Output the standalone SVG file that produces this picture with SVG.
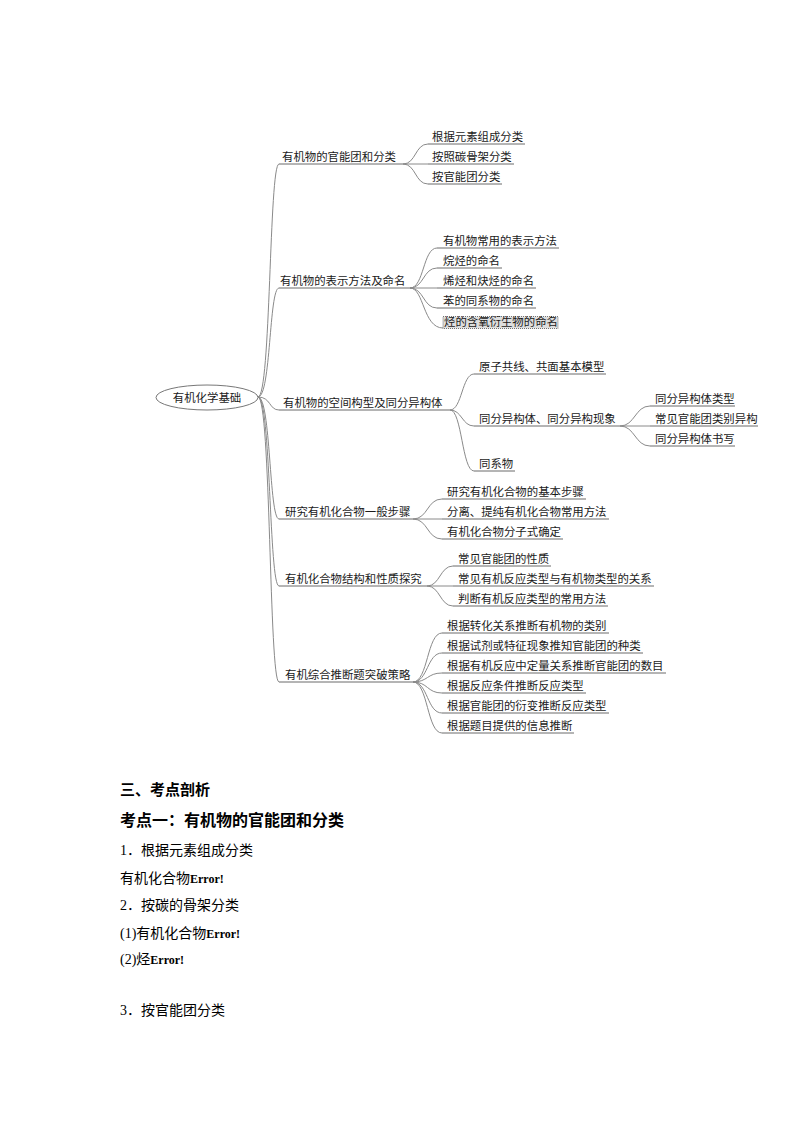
<svg xmlns="http://www.w3.org/2000/svg" width="794" height="1123" viewBox="0 0 794 1123">
<style>
.t{font-family:"Noto Sans CJK SC","Noto Sans",sans-serif;font-size:11.4px;fill:#1a1a1a}
.u{stroke:#6a6a6a;stroke-width:1;fill:none}
.c{stroke:#8a8a8a;stroke-width:1;fill:none}
.h{font-family:"Noto Sans CJK SC",sans-serif;font-weight:bold;fill:#000}
.b{font-family:"Liberation Serif","Noto Sans CJK SC",serif;font-size:14px;fill:#000}
.e{font-family:"Liberation Serif",serif;font-weight:bold;font-size:12px}
</style>
<rect width="794" height="1123" fill="#fff"/>
<g id="connectors">
<!-- root to level 1 -->
<path class="c" d="M258,397 C271,397 269,164 279,164"/>
<path class="c" d="M258,397 C271,397 269,288 279,288"/>
<path class="c" d="M258,397 C271,397 269,410 279,410"/>
<path class="c" d="M258,397 C271,397 269,519 279,519"/>
<path class="c" d="M258,397 C271,397 269,586 279,586"/>
<path class="c" d="M258,397 C271,397 269,682 279,682"/>
<!-- branch 1 -->
<path class="c" d="M403,164 C416,164 415,144 428,144"/>
<path class="c" d="M403,164 L428,164"/>
<path class="c" d="M403,164 C416,164 415,184 428,184"/>
<!-- branch 2 -->
<path class="c" d="M410,288 C424,288 423,248 437,248"/>
<path class="c" d="M410,288 C424,288 423,268 437,268"/>
<path class="c" d="M410,288 L437,288"/>
<path class="c" d="M410,288 C424,288 423,308 437,308"/>
<path class="c" d="M410,288 C424,288 423,328 443,328"/>
<!-- branch 3 -->
<path class="c" d="M450,410 C462,410 462,374 474,374"/>
<path class="c" d="M450,410 C462,410 462,426 474,426"/>
<path class="c" d="M450,410 C462,410 462,471 474,471"/>
<path class="c" d="M620,426 C635,426 635,406 650,406"/>
<path class="c" d="M620,426 L650,426"/>
<path class="c" d="M620,426 C635,426 635,446 650,446"/>
<!-- branch 4 -->
<path class="c" d="M413,519 C428,519 427,499 442,499"/>
<path class="c" d="M413,519 L442,519"/>
<path class="c" d="M413,519 C428,519 427,539 442,539"/>
<!-- branch 5 -->
<path class="c" d="M427,586 C440,586 440,566 453,566"/>
<path class="c" d="M427,586 L453,586"/>
<path class="c" d="M427,586 C440,586 440,606 453,606"/>
<!-- branch 6 -->
<path class="c" d="M413,682 C428,682 427,633 442,633"/>
<path class="c" d="M413,682 C428,682 427,653 442,653"/>
<path class="c" d="M413,682 C428,682 427,673 442,673"/>
<path class="c" d="M413,682 C428,682 427,693 442,693"/>
<path class="c" d="M413,682 C428,682 427,713 442,713"/>
<path class="c" d="M413,682 C428,682 427,733 442,733"/>
</g>
<g id="root">
<ellipse cx="207" cy="397.5" rx="51" ry="12.5" fill="#fff" stroke="#777" stroke-width="1"/>
<text class="t" x="207" y="401.5" text-anchor="middle">有机化学基础</text>
</g>
<g id="n1"><line class="u" x1="279" y1="164" x2="403" y2="164"/><text class="t" x="282" y="161">有机物的官能团和分类</text></g>
<g id="n1a"><line class="u" x1="428" y1="144" x2="525" y2="144"/><text class="t" x="432" y="141">根据元素组成分类</text></g>
<g id="n1b"><line class="u" x1="428" y1="164" x2="514" y2="164"/><text class="t" x="432" y="161">按照碳骨架分类</text></g>
<g id="n1c"><line class="u" x1="428" y1="184" x2="502" y2="184"/><text class="t" x="432" y="181">按官能团分类</text></g>
<g id="n2"><line class="u" x1="279" y1="288" x2="410" y2="288"/><text class="t" x="280" y="285">有机物的表示方法及命名</text></g>
<g id="n2a"><line class="u" x1="437" y1="248" x2="559" y2="248"/><text class="t" x="443" y="245">有机物常用的表示方法</text></g>
<g id="n2b"><line class="u" x1="437" y1="268" x2="502" y2="268"/><text class="t" x="443" y="265">烷烃的命名</text></g>
<g id="n2c"><line class="u" x1="437" y1="288" x2="536" y2="288"/><text class="t" x="443" y="285">烯烃和炔烃的命名</text></g>
<g id="n2d"><line class="u" x1="437" y1="308" x2="536" y2="308"/><text class="t" x="443" y="305">苯的同系物的命名</text></g>
<g id="n2e"><rect x="443" y="316.5" width="115" height="12" fill="#dedede" stroke="#555" stroke-width="0.8" stroke-dasharray="1,1"/><text class="t" x="444" y="326">烃的含氧衍生物的命名</text></g>
<g id="n3"><line class="u" x1="279" y1="410" x2="450" y2="410"/><text class="t" x="283" y="407">有机物的空间构型及同分异构体</text></g>
<g id="n3a"><line class="u" x1="474" y1="374" x2="606" y2="374"/><text class="t" x="479" y="371">原子共线、共面基本模型</text></g>
<g id="n3b"><line class="u" x1="474" y1="426" x2="620" y2="426"/><text class="t" x="479" y="423">同分异构体、同分异构现象</text></g>
<g id="n3c"><line class="u" x1="474" y1="471" x2="515" y2="471"/><text class="t" x="479" y="468">同系物</text></g>
<g id="n3b1"><line class="u" x1="650" y1="406" x2="735" y2="406"/><text class="t" x="655" y="403">同分异构体类型</text></g>
<g id="n3b2"><line class="u" x1="650" y1="426" x2="758" y2="426"/><text class="t" x="655" y="423">常见官能团类别异构</text></g>
<g id="n3b3"><line class="u" x1="650" y1="446" x2="735" y2="446"/><text class="t" x="655" y="443">同分异构体书写</text></g>
<g id="n4"><line class="u" x1="279" y1="519" x2="413" y2="519"/><text class="t" x="285" y="516">研究有机化合物一般步骤</text></g>
<g id="n4a"><line class="u" x1="442" y1="499" x2="586" y2="499"/><text class="t" x="447" y="496">研究有机化合物的基本步骤</text></g>
<g id="n4b"><line class="u" x1="442" y1="519" x2="609" y2="519"/><text class="t" x="447" y="516">分离、提纯有机化合物常用方法</text></g>
<g id="n4c"><line class="u" x1="442" y1="539" x2="563" y2="539"/><text class="t" x="447" y="536">有机化合物分子式确定</text></g>
<g id="n5"><line class="u" x1="279" y1="586" x2="427" y2="586"/><text class="t" x="285" y="583">有机化合物结构和性质探究</text></g>
<g id="n5a"><line class="u" x1="453" y1="566" x2="551" y2="566"/><text class="t" x="458" y="563">常见官能团的性质</text></g>
<g id="n5b"><line class="u" x1="453" y1="586" x2="654" y2="586"/><text class="t" x="458" y="583">常见有机反应类型与有机物类型的关系</text></g>
<g id="n5c"><line class="u" x1="453" y1="606" x2="608" y2="606"/><text class="t" x="458" y="603">判断有机反应类型的常用方法</text></g>
<g id="n6"><line class="u" x1="279" y1="682" x2="413" y2="682"/><text class="t" x="285" y="679">有机综合推断题突破策略</text></g>
<g id="n6a"><line class="u" x1="442" y1="633" x2="609" y2="633"/><text class="t" x="447" y="630">根据转化关系推断有机物的类别</text></g>
<g id="n6b"><line class="u" x1="442" y1="653" x2="643" y2="653"/><text class="t" x="447" y="650">根据试剂或特征现象推知官能团的种类</text></g>
<g id="n6c"><line class="u" x1="442" y1="673" x2="666" y2="673"/><text class="t" x="447" y="670">根据有机反应中定量关系推断官能团的数目</text></g>
<g id="n6d"><line class="u" x1="442" y1="693" x2="586" y2="693"/><text class="t" x="447" y="690">根据反应条件推断反应类型</text></g>
<g id="n6e"><line class="u" x1="442" y1="713" x2="609" y2="713"/><text class="t" x="447" y="710">根据官能团的衍变推断反应类型</text></g>
<g id="n6f"><line class="u" x1="442" y1="733" x2="574" y2="733"/><text class="t" x="447" y="730">根据题目提供的信息推断</text></g>
<g id="body">
<text class="h" x="120" y="795" font-size="15">三、考点剖析</text>
<text class="h" x="120" y="826" font-size="16">考点一：有机物的官能团和分类</text>
<text class="b" x="120" y="855">1．根据元素组成分类</text>
<text class="b" x="120" y="883">有机化合物<tspan class="e">Error!</tspan></text>
<text class="b" x="120" y="910">2．按碳的骨架分类</text>
<text class="b" x="120" y="938">(1)有机化合物<tspan class="e">Error!</tspan></text>
<text class="b" x="120" y="964">(2)烃<tspan class="e">Error!</tspan></text>
<text class="b" x="120" y="1015">3．按官能团分类</text>
</g>
</svg>
